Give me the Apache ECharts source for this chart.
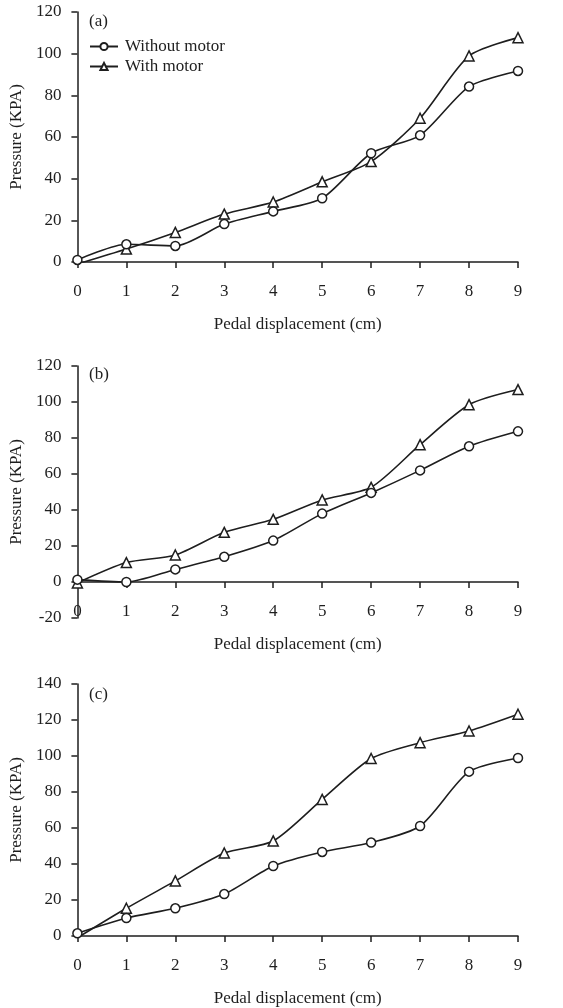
<!DOCTYPE html>
<html>
<head>
<meta charset="utf-8">
<script src="https://cdn.jsdelivr.net/npm/echarts@6/dist/echarts.min.js"></script>
<style>
html,body{margin:0;padding:0;background:#fff;}
#chart{width:563px;height:1008px;}
</style>
</head>
<body>
<div id="chart"></div>
<script>
const xValues = [0, 1, 2, 3, 4, 5, 6, 7, 8, 9];
const aWithout = [1, 8.5, 7.7, 18.2, 24.3, 30.6, 52.2, 60.8, 84.2, 91.7];
const aWith = [-1, 6.2, 14.2, 23, 28.8, 38.5, 48.2, 69, 98.9, 107.7];
const bWithout = [1.3, 0, 7, 14, 23, 38, 49.5, 62, 75.4, 83.7];
const bWith = [-0.5, 10.8, 15, 27.6, 34.8, 45.6, 52.6, 76.3, 98.5, 106.9];
const cWithout = [1.5, 10, 15.4, 23.3, 38.9, 46.7, 51.9, 61.1, 91.3, 98.9];
const cWith = [-1, 15.4, 30.6, 46.1, 52.8, 75.9, 98.6, 107.4, 113.9, 123.2];
const panelLabels = ['(a)', '(b)', '(c)'];
const yRanges = [[0, 120], [-20, 120], [0, 140]];
const seriesNames = ['Without motor', 'With motor'];
const xName = 'Pedal displacement (cm)';
const yName = 'Pressure (KPA)';

const FONT = 'Liberation Serif';
const INK = '#1e1e1e';
const FS = 17;

const grids = [
  {left: 77, width: 441, top: 12, height: 250},
  {left: 77, width: 441, top: 366, height: 252},
  {left: 77, width: 441, top: 684, height: 252}
];
const panels = [[aWithout, aWith], [bWithout, bWith], [cWithout, cWith]];

const xAxes = grids.map((g, i) => {
  // place the x axis at value 0 of the y axis
  const r = yRanges[i];
  const zeroOffset = -Math.round(g.height * (0 - r[0]) / (r[1] - r[0]));
  return {
    type: 'value', gridIndex: i, min: 0, max: 9, interval: 1, position: 'bottom', offset: zeroOffset,
    name: xName, nameLocation: 'middle', nameGap: 54,
    nameTextStyle: {fontFamily: FONT, fontSize: FS, color: INK},
    axisLine: {onZero: false, lineStyle: {color: INK, width: 1.5}},
    axisTick: {inside: false, length: 6, lineStyle: {color: INK, width: 1.5}},
    axisLabel: {fontFamily: FONT, fontSize: FS, color: INK, margin: 21},
    splitLine: {show: false}
  };
});
const yAxes = grids.map((g, i) => ({
  type: 'value', gridIndex: i, min: yRanges[i][0], max: yRanges[i][1], interval: 20,
  name: yName, nameLocation: 'middle', nameGap: 52,
  nameTextStyle: {fontFamily: FONT, fontSize: FS, color: INK},
  axisLine: {show: true, onZero: false, lineStyle: {color: INK, width: 1.5}},
  axisTick: {show: true, inside: false, length: 6, lineStyle: {color: INK, width: 1.5}},
  axisLabel: {fontFamily: FONT, fontSize: FS, color: INK, margin: 16},
  splitLine: {show: false}
}));

const series = [];
panels.forEach((p, i) => {
  p.forEach((vals, k) => {
    series.push({
      name: seriesNames[k], type: 'line', xAxisIndex: i, yAxisIndex: i,
      data: xValues.map((x, j) => [x, vals[j]]),
      smooth: 0.25,
      symbol: k === 0 ? 'circle' : 'triangle',
      symbolSize: k === 0 ? 9 : 10,
      showSymbol: true,
      lineStyle: {color: INK, width: 1.6},
      itemStyle: {color: '#fff', borderColor: INK, borderWidth: 1.5},
      emphasis: {disabled: true},
      z: k === 0 ? 3 : 2
    });
  });
});

const chart = echarts.init(document.getElementById('chart'), null, {renderer: 'canvas'});
chart.setOption({
  animation: false,
  backgroundColor: '#fff',
  grid: grids.map(g => Object.assign({containLabel: false}, g)),
  xAxis: xAxes,
  yAxis: yAxes,
  title: panelLabels.map((t, i) => ({
    text: t, left: 84, top: [8, 361, 681][i],
    textStyle: {fontFamily: FONT, fontSize: FS, fontWeight: 'normal', color: INK}
  })),
  legend: {
    data: seriesNames, orient: 'vertical', left: 84, top: 33,
    itemWidth: 28, itemHeight: 9, itemGap: 3,
    textStyle: {fontFamily: FONT, fontSize: FS, color: INK, padding: [0, 0, 0, 2]}
  },
  series: series
});
</script>
</body>
</html>
